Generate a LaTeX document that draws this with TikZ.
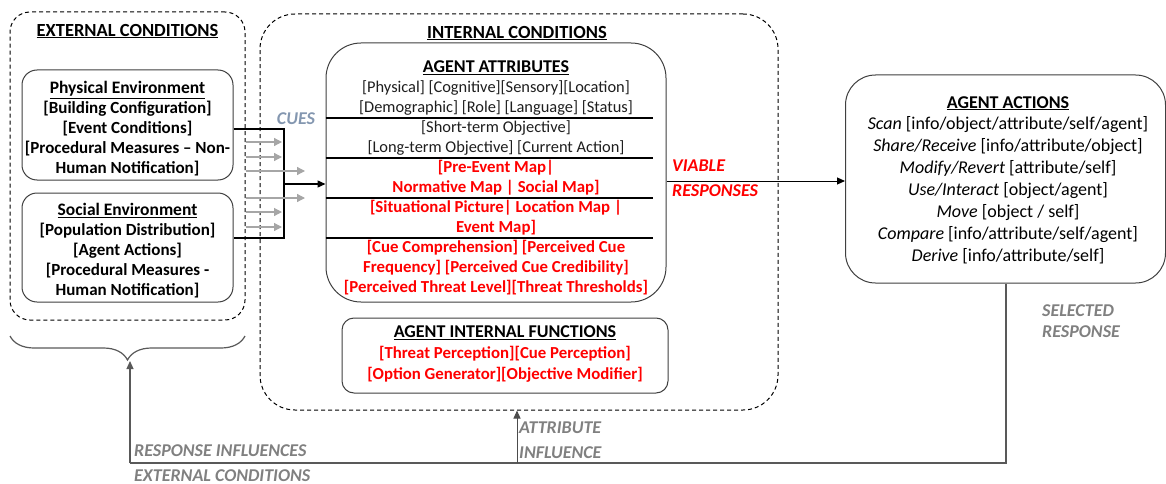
\documentclass[tikz,border=0pt]{standalone}
\usepackage{fontspec}
\setmainfont{Carlito}
\usetikzlibrary{arrows.meta,decorations.pathreplacing,calc}
\definecolor{lbl}{RGB}{128,128,128}
\definecolor{cuecol}{RGB}{132,151,176}
\definecolor{dgray}{RGB}{30,30,30}
\begin{document}
\begin{tikzpicture}[x=1pt,y=-1pt,
  dashbox/.style={draw=black,dash pattern=on 4pt off 3pt,line width=1pt,rounded corners=#1,inner sep=0},
  solidbox/.style={draw=black!75,line width=1pt,rounded corners=#1,inner sep=0,fill=white},
  envtxt/.style={font=\fontsize{17}{20}\selectfont\bfseries,align=center,inner sep=0},
  ttl/.style={font=\fontsize{18.5}{18}\selectfont\bfseries,inner sep=0},
  lblt/.style={font=\fontsize{18}{25}\selectfont\bfseries\itshape,text=lbl,inner sep=0,align=left},
  arr/.style={-{Triangle[length=8pt,width=7pt]}},
  cuearr/.style={draw=black!35,line width=1.2pt,-{Triangle[length=8pt,width=8pt]}},
  sep/.style={line width=2.2pt},
  fb/.style={line width=1.2pt,draw=black!65}
]
\useasboundingbox (0,0) rectangle (1166,484);

% external conditions
\node[dashbox=20pt,minimum width=235pt,minimum height=308pt] (ext) at (127.5,166) {};
\node[ttl] (extt) at (127.5,31) {\underline{EXTERNAL CONDITIONS}};
\node[solidbox=15pt,minimum width=211pt,minimum height=110pt] (phys) at (127.5,125) {};
\node[envtxt] (physt) at (127.5,129) {{\fontsize{17.5}{20}\selectfont\underline{Physical Environment}}\\{[}Building Configuration]\\{[}Event Conditions]\\{[}Procedural Measures -- Non-\\Human Notification]};
\node[solidbox=15pt,minimum width=211pt,minimum height=109pt] (soc) at (127.5,247.5) {};
\node[envtxt] (soct) at (127.5,251) {{\fontsize{17.5}{20}\selectfont\underline{Social Environment}}\\{[}Population Distribution]\\{[}Agent Actions]\\{[}Procedural Measures -\\Human Notification]};

% internal conditions
\node[dashbox=35pt,minimum width=518pt,minimum height=396pt] (int) at (519,212) {};
\node[ttl] (intt) at (517,33) {\underline{INTERNAL CONDITIONS}};
\node[solidbox=35pt,minimum width=340pt,minimum height=259pt] (attr) at (496,172.5) {};
\node[font=\fontsize{16.4}{20}\selectfont,text=dgray,align=center,inner sep=0] (attrt) at (496,178)
 {{\fontsize{18}{20}\selectfont\bfseries\color{black}\underline{AGENT ATTRIBUTES}}\\
  {[}Physical] [Cognitive][Sensory][Location]\\
  {[}Demographic] [Role] [Language] [Status]\\
  {[}Short-term Objective]\\
  {[}Long-term Objective] [Current Action]\\
  {\fontsize{16.8}{20}\selectfont\color{red}\bfseries [Pre-Event Map|}\\
  {\fontsize{16.8}{20}\selectfont\color{red}\bfseries Normative Map | Social Map]}\\
  {\fontsize{16.8}{20}\selectfont\color{red}\bfseries [Situational Picture| Location Map |}\\
  {\fontsize{16.8}{20}\selectfont\color{red}\bfseries Event Map]}\\
  {\fontsize{16.8}{20}\selectfont\color{red}\bfseries [Cue Comprehension] [Perceived Cue}\\
  {\fontsize{16.8}{20}\selectfont\color{red}\bfseries Frequency] [Perceived Cue Credibility]}\\
  {\fontsize{16.8}{20}\selectfont\color{red}\bfseries [Perceived Threat Level][Threat Thresholds]}};
\foreach \yy in {118,158,198,238}{
  \draw[sep] (attr.west |- 0,\yy) -- (653,\yy);
}
\node[solidbox=12pt,minimum width=326pt,minimum height=75pt] (func) at (505,355.5) {};
\node[font=\fontsize{16.8}{21}\selectfont\bfseries,text=red,align=center,inner sep=0] (funct) at (505,354)
 {{\fontsize{18}{21}\selectfont\color{black}\underline{AGENT INTERNAL FUNCTIONS}}\\
  {[}Threat Perception][Cue Perception]\\
  {[}Option Generator][Objective Modifier]};

% agent actions
\node[solidbox=30pt,minimum width=320pt,minimum height=208pt] (act) at (1005.5,179) {};
\node[font=\fontsize{18}{21.9}\selectfont,align=center,inner sep=0] (actt) at (1008,180)
 {{\bfseries\underline{AGENT ACTIONS}}\\
  \textit{Scan} [info/object/attribute/self/agent]\\
  \textit{Share/Receive} [info/attribute/object]\\
  \textit{Modify/Revert} [attribute/self]\\
  \textit{Use/Interact} [object/agent]\\
  \textit{Move} [object / self]\\
  \textit{Compare} [info/attribute/self/agent]\\
  \textit{Derive} [info/attribute/self]};

% cues
\coordinate (cj) at (284,184);
\draw[line width=1.4pt] (phys.east |- 0,129) -- (284,129) -- (284,238) -- (soc.east |- 0,238);
\draw[arr,line width=1.4pt] (cj) -- (attr.west |- cj);
\foreach \yy/\xe in {142/282,157/282,171/305,198/305,212/282,227/282}{
  \draw[cuearr] (ext.east |- 0,\yy) -- (\xe,\yy);
}
\node[font=\fontsize{18}{16}\selectfont\bfseries\itshape,text=cuecol,inner sep=0] (cues) at (296,119) {CUES};

% viable responses
\draw[arr,line width=1pt] (attr.east |- 0,181) -- (act.west |- 0,181);
\node[font=\fontsize{18}{25}\selectfont\bfseries\itshape,text=red,inner sep=0,anchor=west,align=left] (via) at (672,178) {VIABLE\\RESPONSES};

% brace + feedback
\draw[fb,decorate,decoration={brace,amplitude=24pt,aspect=0.5}] (245,336) -- (10,336);
\coordinate (tip) at (130,361);
\coordinate (br) at (1006,463);
\coordinate (bl) at (130,463);
\coordinate (bm) at (517,463);
\draw[fb] (act.south -| br) -- (br) -- (bl);
\draw[fb,arr,draw=black!65] (bl) -- (tip);
\draw[line width=1pt,draw=black!70,-{Triangle[length=8pt,width=7pt]}] (bm) -- (int.south -| bm);

\node[lblt,anchor=west,font=\fontsize{18}{21}\selectfont\bfseries\itshape] (sel) at (1042,321) {SELECTED\\RESPONSE};
\node[lblt,anchor=west] (att) at (519,440) {ATTRIBUTE\\INFLUENCE};
\node[lblt,anchor=west] (resp) at (134,463) {RESPONSE INFLUENCES\\EXTERNAL CONDITIONS};
\end{tikzpicture}
\end{document}
